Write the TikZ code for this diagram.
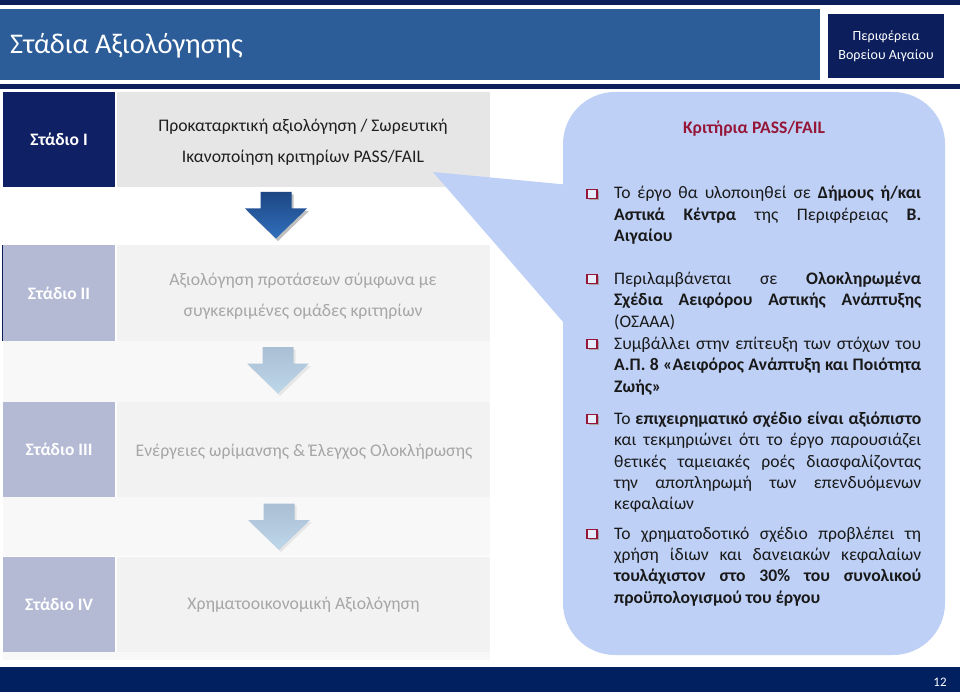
\documentclass[tikz,border=0pt]{standalone}
\usepackage{fontspec}
\setmainfont{Carlito}
\definecolor{navy}{RGB}{12,31,92}
\definecolor{banner}{RGB}{44,93,152}
\definecolor{stageone}{RGB}{16,32,100}
\definecolor{footer}{RGB}{0,32,96}
\definecolor{grayI}{RGB}{230,230,230}
\definecolor{grayII}{RGB}{242,242,242}
\definecolor{pale}{RGB}{180,186,212}
\definecolor{fadetext}{RGB}{166,166,166}
\definecolor{bubble}{RGB}{190,208,246}
\definecolor{maroon}{RGB}{150,22,55}
\definecolor{band}{RGB}{248,248,248}
\definecolor{bodytext}{RGB}{25,25,25}
\definecolor{arrowtop}{RGB}{28,70,132}
\definecolor{arrowbot}{RGB}{50,112,188}
\definecolor{fadetop}{RGB}{170,190,212}
\definecolor{fadebot}{RGB}{190,215,233}
\newcommand{\jl}[1]{\makebox[307pt][s]{#1}}
\newcommand{\barrow}[3]{\path[#1] (#2-15.5,#3) -- (#2+15.5,#3) -- (#2+15.5,#3+16.5) -- (#2+31,#3+16.5) -- (#2,#3+46.5) -- (#2-31,#3+16.5) -- (#2-15.5,#3+16.5) -- cycle;}
\newcommand{\cbox}[2]{%
  \fill[black!35] (#1+1.5,#2-3) rectangle (#1+11.5,#2+6);
  \draw[maroon, line width=1.4pt, fill=white!60!bubble] (#1,#2-4.5) rectangle (#1+10,#2+4.5);}
\tikzset{
  stagelab/.style={minimum width=112pt, minimum height=95pt, inner sep=0pt, text=white, font=\fontsize{17.5}{21}\selectfont\bfseries},
  stagebox/.style={minimum width=373pt, minimum height=95pt, inner sep=0pt},
  stagetext/.style={align=center, inner sep=0pt, font=\fontsize{17.7}{31}\selectfont},
  body/.style={anchor=base west, inner sep=0pt, text=bodytext, font=\fontsize{17.6}{21}\selectfont},
}
\begin{document}
\begin{tikzpicture}[x=1pt,y=-1pt]
\useasboundingbox (0,0) rectangle (960,692);
\fill[white] (0,0) rectangle (960,692);
% header
\fill[navy] (0,0) rectangle (960,5);
\fill[banner] (0,9) rectangle (820,80);
\fill[navy] (0,84) rectangle (960,89);
\node[anchor=west, inner sep=0pt, text=white, font=\fontsize{28.5}{32}\selectfont] (title) at (10,46) {Στάδια Αξιολόγησης};
\node[fill=navy, minimum width=116pt, minimum height=64pt, inner sep=0pt, text=white, align=center, font=\fontsize{14}{19}\selectfont] (region) at (886,46) {Περιφέρεια\\Βορείου Αιγαίου};
% faint bands
\fill[band] (3,341) rectangle (490,402);
\fill[band] (3,497) rectangle (490,556);
\fill[band] (3,652) rectangle (490,660);
% stage I
\node[stagelab, fill=stageone] (s1) at (59,139.5) {Στάδιο I};
\node[stagebox, fill=grayI] (g1) at (303.5,139.5) {};
\node[stagetext, text=black!88] (t1) at (303,142) {Προκαταρκτική αξιολόγηση / Σωρευτική\\Ικανοποίηση κριτηρίων PASS/FAIL};
% stage II
\node[stagelab, fill=pale] (s2) at (59,293) {Στάδιο II};
\draw[navy, line width=1.2pt] (s2.north west) -- (s2.south west);
\node[stagebox, fill=grayII] (g2) at (303.5,293) {};
\node[stagetext, text=fadetext] (t2) at (303,296) {Αξιολόγηση προτάσεων σύμφωνα με\\συγκεκριμένες ομάδες κριτηρίων};
% stage III
\node[stagelab, fill=pale] (s3) at (59,449.5) {Στάδιο III};
\node[stagebox, fill=grayII] (g3) at (303.5,449.5) {};
\node[stagetext, text=fadetext] (t3) at (304,452) {Ενέργειες ωρίμανσης \& Έλεγχος Ολοκλήρωσης};
% stage IV
\node[stagelab, fill=pale] (s4) at (59,604) {Στάδιο IV};
\node[stagebox, fill=grayII] (g4) at (303.5,604) {};
\node[stagetext, text=fadetext] (t4) at (303.5,605) {Χρηματοοικονομική Αξιολόγηση};
% arrows
\barrow{fill=black, opacity=0.25}{278}{194.5}
\barrow{top color=arrowtop, bottom color=arrowbot}{276}{192}
\barrow{fill=black, opacity=0.07}{280}{349.5}
\barrow{top color=fadetop, bottom color=fadebot}{278}{347}
\barrow{fill=black, opacity=0.07}{281}{505.5}
\barrow{top color=fadetop, bottom color=fadebot}{279}{503.5}
% callout
\fill[bubble, rounded corners=52pt] (563,92) rectangle (945,655);
\fill[bubble] (433,172) -- (570,185) -- (570,330) -- cycle;
\node[inner sep=0pt, text=maroon, font=\fontsize{17.6}{21}\selectfont\bfseries] (ktitle) at (754,129) {Κριτήρια PASS/FAIL};
% bullet 1
\cbox{587}{194}
\node[body] (b1a) at (614,199) {\jl{Το έργο θα υλοποιηθεί σε \textbf{Δήμους ή/και}}};
\node[body] (b1b) at (614,220.5) {\jl{\textbf{Αστικά Κέντρα} της Περιφέρειας \textbf{Β.}}};
\node[body] (b1c) at (614,242) {\textbf{Αιγαίου}};
% bullet 2
\cbox{587}{279}
\node[body] (b2a) at (614,284) {\jl{Περιλαμβάνεται σε \textbf{Ολοκληρωμένα}}};
\node[body] (b2b) at (614,305.5) {\jl{\textbf{Σχέδια Αειφόρου Αστικής Ανάπτυξης}}};
\node[body] (b2c) at (614,327) {(ΟΣΑΑΑ)};
% bullet 3
\cbox{587}{344}
\node[body] (b3a) at (614,349) {\jl{Συμβάλλει στην επίτευξη των στόχων του}};
\node[body] (b3b) at (614,370.5) {\jl{\textbf{Α.Π. 8 «Αειφόρος Ανάπτυξη και Ποιότητα}}};
\node[body] (b3c) at (614,392) {\textbf{Ζωής»}};
% bullet 4
\cbox{587}{419}
\node[body] (b4a) at (614,424) {\jl{Το \textbf{επιχειρηματικό σχέδιο είναι αξιόπιστο}}};
\node[body] (b4b) at (614,445.5) {\jl{και τεκμηριώνει ότι το έργο παρουσιάζει}};
\node[body] (b4c) at (614,467) {\jl{θετικές ταμειακές ροές διασφαλίζοντας}};
\node[body] (b4d) at (614,488) {\jl{την αποπληρωμή των επενδυόμενων}};
\node[body] (b4e) at (614,509) {κεφαλαίων};
% bullet 5
\cbox{587}{534}
\node[body] (b5a) at (614,539) {\jl{Το χρηματοδοτικό σχέδιο προβλέπει τη}};
\node[body] (b5b) at (614,560) {\jl{χρήση ίδιων και δανειακών κεφαλαίων}};
\node[body] (b5c) at (614,581.5) {\jl{\textbf{τουλάχιστον στο 30\% του συνολικού}}};
\node[body] (b5d) at (614,603) {\textbf{προϋπολογισμού του έργου}};
% footer
\fill[footer] (0,667) rectangle (960,692);
\node[inner sep=0pt, text=white, font=\fontsize{13}{15}\selectfont] (pagenum) at (940,682) {12};
\end{tikzpicture}
\end{document}
